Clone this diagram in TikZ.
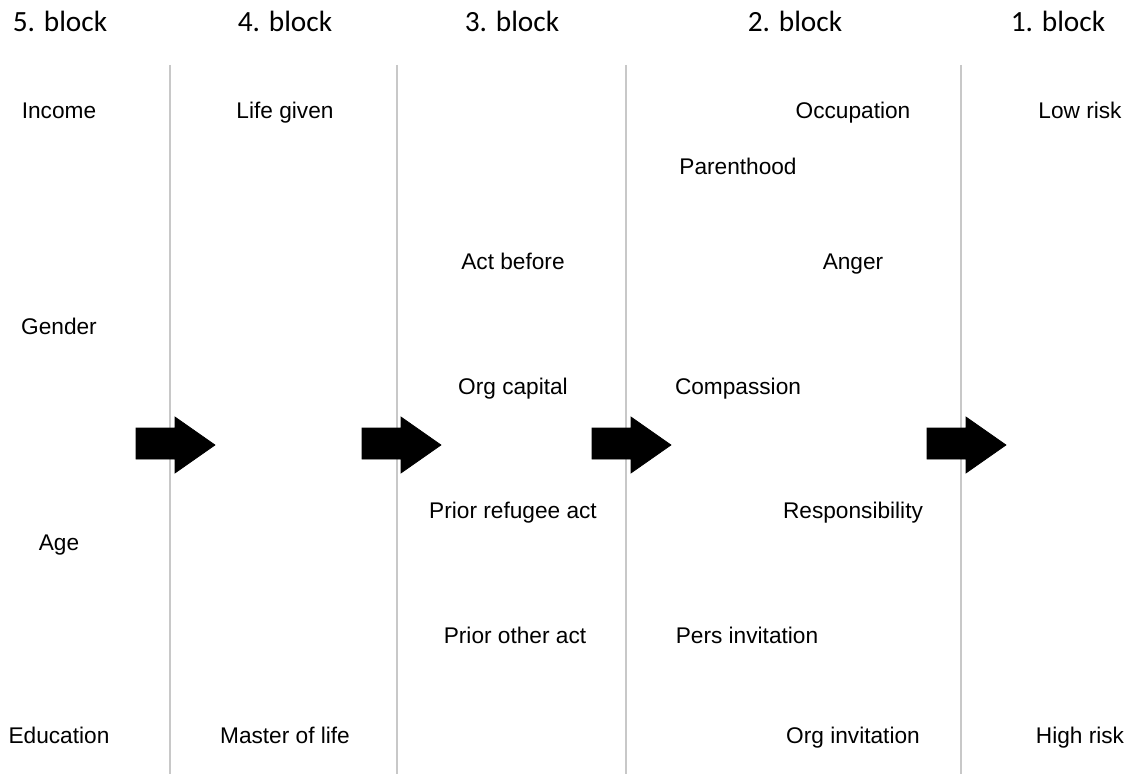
\documentclass[tikz,border=0pt]{standalone}
\usepackage{fontspec}
\setmainfont{Liberation Sans}
\newfontfamily\headfont{Carlito}
\usepackage{tikz}
\definecolor{rulegray}{RGB}{200,200,200}
\tikzset{
	lbl/.style={font=\fontsize{17}{20}\selectfont, inner sep=0pt, text height=12.2pt, text depth=0pt},
	head/.style={font=\headfont\fontsize{22}{26}\selectfont, inner sep=0pt, text height=14.5pt, text depth=0pt},
	divider/.style={draw=rulegray, line width=1.5pt},
	bigarrow/.style={fill=black, draw=black, line width=0.5pt},
}

\begin{document}
\begin{tikzpicture}[x=0.75pt, y=-0.75pt]
	\useasboundingbox (0,0) rectangle (1132,774);

	% block headers
	\node[head] (h5) at (60,22) {5. block};
	\node[head] (h4) at (285,22) {4. block};
	\node[head] (h3) at (512,22) {3. block};
	\node[head] (h2) at (795,22) {2. block};
	\node[head] (h1) at (1058,22) {1. block};

	% dividers
	\coordinate (d1top) at (170,65);  \coordinate (d1bot) at (170,774);
	\coordinate (d2top) at (397,65);  \coordinate (d2bot) at (397,774);
	\coordinate (d3top) at (626,65);  \coordinate (d3bot) at (626,774);
	\coordinate (d4top) at (961,65);  \coordinate (d4bot) at (961,774);
	\draw[divider] (d1top) -- (d1bot);
	\draw[divider] (d2top) -- (d2bot);
	\draw[divider] (d3top) -- (d3bot);
	\draw[divider] (d4top) -- (d4bot);

	% 5. block
	\node[lbl] (income) at (59,110) {Income};
	\node[lbl] (gender) at (59,326) {Gender};
	\node[lbl] (age) at (59,542) {Age};
	\node[lbl] (educ) at (59,735) {Education};

	% 4. block
	\node[lbl] (life) at (285,110) {Life given};
	\node[lbl] (master) at (285,735) {Master of life};

	% 3. block
	\node[lbl] (actbef) at (513,261) {Act before};
	\node[lbl] (orgcap) at (513,386) {Org capital};
	\node[lbl] (prref) at (513,510) {Prior refugee act};
	\node[lbl] (proth) at (515,635) {Prior other act};

	% 2. block
	\node[lbl] (occup) at (853,110) {Occupation};
	\node[lbl] (parent) at (738,166) {Parenthood};
	\node[lbl] (anger) at (853,261) {Anger};
	\node[lbl] (compass) at (738,386) {Compassion};
	\node[lbl] (resp) at (853,510) {Responsibility};
	\node[lbl] (persinv) at (747,635) {Pers invitation};
	\node[lbl] (orginv) at (853,735) {Org invitation};

	% 1. block
	\node[lbl] (lowrisk) at (1080,110) {Low risk};
	\node[lbl] (highrisk) at (1080,735) {High risk};

	% arrows between blocks
	\foreach \ax in {136,362,592,927} {
		\draw[bigarrow] (\ax,428) -- (\ax+39,428) -- (\ax+39,417) -- (\ax+79,445)
			-- (\ax+39,473) -- (\ax+39,459) -- (\ax,459) -- cycle;
	}
\end{tikzpicture}
\end{document}
